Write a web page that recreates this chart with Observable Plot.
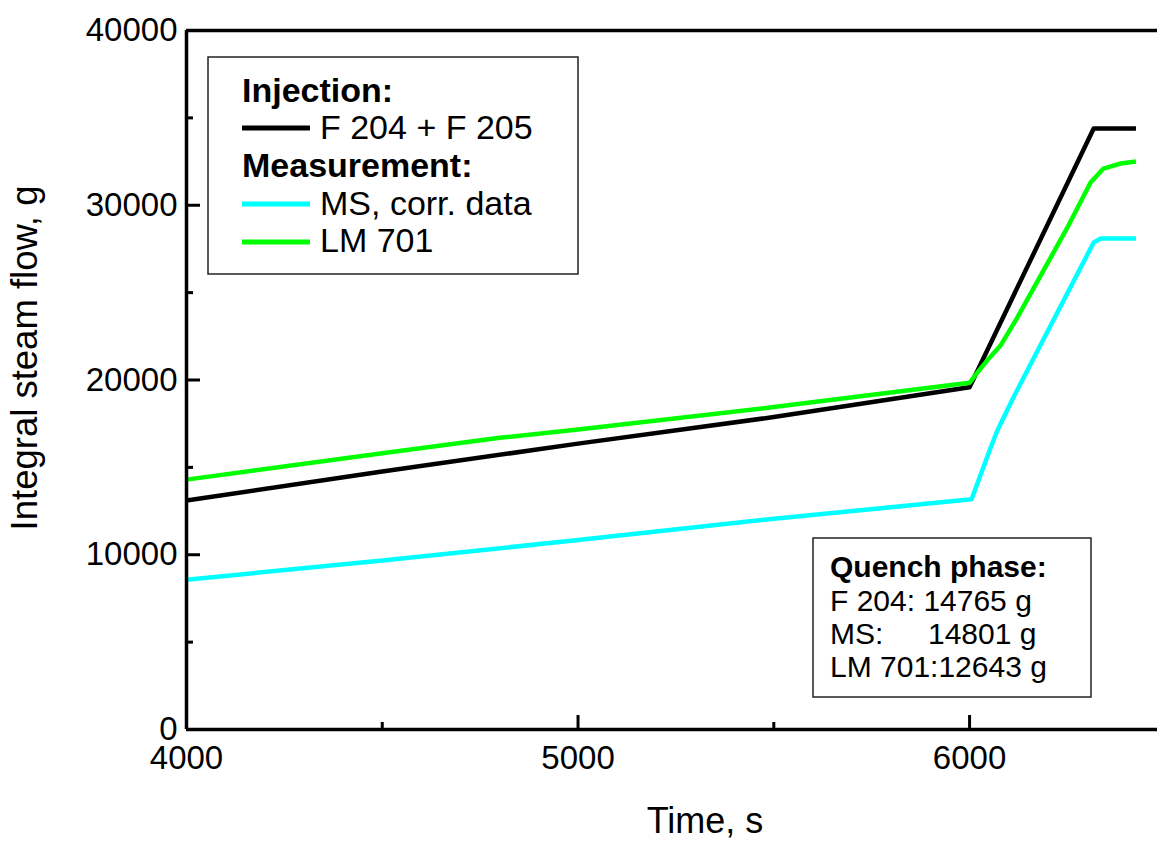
<!DOCTYPE html>
<html>
<head>
<meta charset="utf-8">
<script src="https://cdn.jsdelivr.net/npm/d3@7"></script>
<script src="https://cdn.jsdelivr.net/npm/@observablehq/plot@0.6"></script>
<style>
  html, body { margin: 0; padding: 0; background: #fff; overflow: hidden; }
  #chart svg { display: block; }
</style>
</head>
<body>
<div id="chart"></div>
<script>
// ---- Data ----
const timeF  = [4000, 4500, 5000, 5500, 6000, 6317, 6425];
const flowF  = [13100, 14760, 16360, 17880, 19590, 34390, 34390];

const timeMS = [4000, 4500, 5000, 5500, 6005, 6054, 6071, 6112, 6174, 6317, 6335, 6425];
const flowMS = [8570, 9670, 10840, 12060, 13170, 16140, 17110, 19000, 21690, 27870, 28100, 28100];

const timeLM = [4000, 4500, 4800, 5000, 5500, 6000, 6020, 6050, 6079, 6120, 6250, 6309, 6342, 6386, 6425];
const flowLM = [14300, 15810, 16690, 17170, 18450, 19840, 20430, 21250, 21970, 23500, 28730, 31300, 32100, 32390, 32500];

const seriesNames  = ["F 204 + F 205", "MS, corr. data", "LM 701"];
const seriesColors = ["#000000", "#00ffff", "#00ff00"];

const xDomain = [4000, 6480];
const yDomain = [0, 40000];
const xMajor = [4000, 5000, 6000];
const xMinor = [4500, 5500];
const xTickLabels = ["4000", "5000", "6000"];
const yMajor = [0, 10000, 20000, 30000, 40000];
const yMinor = [5000, 15000, 25000, 35000];
const yTickLabels = ["0", "10000", "20000", "30000", "40000"];

const xTitle = "Time, s";
const yTitle = "Integral steam flow, g";

const legendHeads = ["Injection:", "Measurement:"];
const quenchTitle = "Quench phase:";
const quenchLabels = ["F 204:", "MS:", "LM 701:"];
const quenchValues = ["14765 g", "14801 g", "12643 g"];

// ---- Build table ----
const seriesData = [
  {name: seriesNames[0], time: timeF, flow: flowF},
  {name: seriesNames[1], time: timeMS, flow: flowMS},
  {name: seriesNames[2], time: timeLM, flow: flowLM}
];
const rows = seriesData.flatMap(s => s.time.map((t, i) => ({series: s.name, time: t, flow: s.flow[i]})));

const W = 1157, H = 842, ML = 186, MR = 0, MT = 30, MB = 113;
const frameW = W - ML - MR, frameH = H - MT - MB;
const font = "'Liberation Sans', Arial, Helvetica, sans-serif";

const chart = Plot.plot({
  width: W, height: H,
  marginLeft: ML, marginRight: MR, marginTop: MT, marginBottom: MB,
  style: {fontFamily: font, background: "#fff", color: "#000"},
  x: {domain: xDomain, label: null},
  y: {domain: yDomain, label: null},
  color: {domain: seriesNames, range: seriesColors},
  marks: [
    // data lines
    Plot.line(rows, {x: "time", y: "flow", z: "series", stroke: "series", strokeWidth: 4.5, strokeLinejoin: "round", strokeLinecap: "butt"}),
    // axis lines (left, bottom, top)
    Plot.ruleX([xDomain[0]], {stroke: "#000", strokeWidth: 3.5}),
    Plot.ruleY(yDomain, {stroke: "#000", strokeWidth: 3.5}),
    // inward ticks
    Plot.ruleY(yMajor, {stroke: "#000", strokeWidth: 3, insetRight: frameW - 14}),
    Plot.ruleY(yMinor, {stroke: "#000", strokeWidth: 3, insetRight: frameW - 7}),
    Plot.ruleX(xMajor, {stroke: "#000", strokeWidth: 3, insetTop: frameH - 14}),
    Plot.ruleX(xMinor, {stroke: "#000", strokeWidth: 3, insetTop: frameH - 7}),
    // tick labels
    Plot.axisY({ticks: yMajor, tickSize: 0, tickPadding: 9, fontSize: 33, label: null,
                tickFormat: d => yTickLabels[yMajor.indexOf(d)]}),
    Plot.axisX({ticks: xMajor, tickSize: 0, tickPadding: 16, fontSize: 33, label: null,
                tickFormat: d => xTickLabels[xMajor.indexOf(d)]}),
    // x axis title
    Plot.text([xTitle], {text: d => d, frameAnchor: "bottom", dx: 33, dy: 92, fontSize: 36, lineAnchor: "middle", fill: "#000"})
  ]
});

document.getElementById("chart").appendChild(chart);

const svg = d3.select(chart);

// ---- y axis title ----
svg.append("text")
  .attr("transform", "translate(37,358) rotate(-90)")
  .attr("text-anchor", "middle")
  .attr("font-family", font).attr("font-size", 36.5).attr("fill", "#000")
  .text(yTitle);

// ---- Legend box (upper left) ----
const lg = svg.append("g").attr("font-family", font).attr("fill", "#000").attr("text-anchor", "start");
lg.append("rect").attr("x", 208).attr("y", 57).attr("width", 370).attr("height", 217)
  .attr("fill", "#fff").attr("stroke", "#222").attr("stroke-width", 1.5);
lg.append("text").attr("x", 242).attr("y", 102).attr("font-size", 34).attr("font-weight", "bold").text(legendHeads[0]);
lg.append("text").attr("x", 242).attr("y", 177).attr("font-size", 34).attr("font-weight", "bold").text(legendHeads[1]);
const legendRows = [
  {name: seriesNames[0], color: seriesColors[0], ly: 128, ty: 139},
  {name: seriesNames[1], color: seriesColors[1], ly: 204, ty: 215},
  {name: seriesNames[2], color: seriesColors[2], ly: 242, ty: 252}
];
legendRows.forEach(r => {
  lg.append("line").attr("x1", 242).attr("x2", 310).attr("y1", r.ly).attr("y2", r.ly)
    .attr("stroke", r.color).attr("stroke-width", 5);
  lg.append("text").attr("x", 320).attr("y", r.ty).attr("font-size", 34).text(r.name);
});

// ---- Quench phase box (lower right) ----
const qg = svg.append("g").attr("font-family", font).attr("fill", "#000").attr("text-anchor", "start");
qg.append("rect").attr("x", 813).attr("y", 538).attr("width", 278).attr("height", 159)
  .attr("fill", "#fff").attr("stroke", "#222").attr("stroke-width", 1.5);
qg.append("text").attr("x", 830).attr("y", 577).attr("font-size", 30).attr("font-weight", "bold").text(quenchTitle);
const qy = [611, 644, 677];
qg.append("text").attr("x", 830).attr("y", qy[0]).attr("font-size", 30).text(quenchLabels[0] + " " + quenchValues[0]);
qg.append("text").attr("x", 830).attr("y", qy[1]).attr("font-size", 30).text(quenchLabels[1]);
qg.append("text").attr("x", 928).attr("y", qy[1]).attr("font-size", 30).text(quenchValues[1]);
qg.append("text").attr("x", 830).attr("y", qy[2]).attr("font-size", 30).text(quenchLabels[2] + quenchValues[2]);
</script>
</body>
</html>
